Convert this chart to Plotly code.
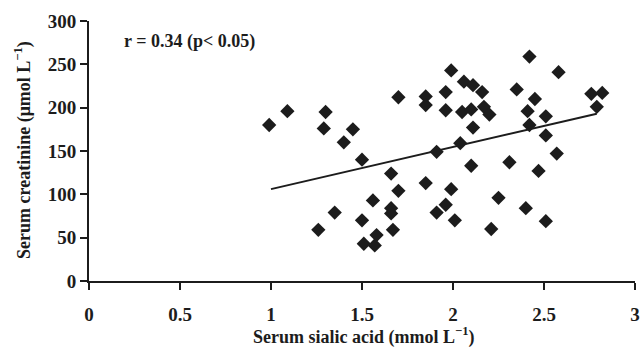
import plotly.graph_objects as go

# Serum sialic acid (mmol/L)
sialic = [0.99, 1.09, 1.30, 1.29, 1.45, 1.40, 1.50, 1.66, 1.70, 1.26,
          1.35, 1.50, 1.56, 1.51, 1.57, 1.58, 1.66, 1.66, 1.67, 1.70,
          1.85, 1.99, 1.96, 1.91, 2.01, 2.10, 2.25, 2.21, 2.31, 2.47,
          2.40, 2.51, 1.91, 2.04, 1.99, 2.06, 2.11, 2.16, 1.85, 1.85,
          1.96, 1.96, 2.05, 2.10, 2.17, 2.20, 2.11, 2.35, 2.42, 2.58,
          2.45, 2.41, 2.51, 2.42, 2.51, 2.57, 2.76, 2.82, 2.79]
# Serum creatinine (umol/L)
creatinine = [180, 196, 195, 176, 175, 160, 140, 124, 212, 59,
              79, 70, 93, 43, 41, 53, 84, 78, 59, 104,
              113, 106, 88, 79, 70, 133, 96, 60, 137, 127,
              84, 69, 149, 159, 243, 230, 226, 218, 213, 203,
              218, 197, 195, 198, 201, 192, 177, 221, 259, 241,
              210, 196, 190, 180, 168, 147, 216, 217, 201]

# Trend line end points
trend_x = [1.0, 2.79]
trend_y = [106, 193]

x_ticks = [0, 0.5, 1, 1.5, 2, 2.5, 3]
x_tick_labels = ["0", "0.5", "1", "1.5", "2", "2.5", "3"]
y_ticks = [0, 50, 100, 150, 200, 250, 300]

INK = "#1c1c1c"
FONT = "Liberation Serif"

fig = go.Figure()
fig.add_trace(go.Scatter(x=trend_x, y=trend_y, mode="lines",
                         line=dict(color=INK, width=2), showlegend=False,
                         hoverinfo="skip"))
fig.add_trace(go.Scatter(x=sialic, y=creatinine, mode="markers",
                         marker=dict(symbol="diamond", size=11, color=INK,
                                     line=dict(width=0)),
                         showlegend=False))

axis_common = dict(showgrid=False, zeroline=False, showline=True,
                   linecolor=INK, linewidth=2, ticks="outside", ticklen=7,
                   tickwidth=2, tickcolor=INK, automargin=False,
                   tickfont=dict(family=FONT, size=19, weight="bold", color=INK))

fig.update_layout(
    width=643, height=348,
    margin=dict(l=89, r=8, t=21, b=67),
    plot_bgcolor="white", paper_bgcolor="white",
    font=dict(family=FONT, color=INK, size=18, weight="bold"),
    xaxis=dict(range=[0, 3], tickvals=x_ticks, ticktext=x_tick_labels,
               ticklabelstandoff=8, **axis_common),
    yaxis=dict(range=[0, 300], tickvals=y_ticks, **axis_common),
    annotations=[
        dict(text="r = 0.34 (p< 0.05)", x=0.18, y=276,
             xref="x", yref="y", showarrow=False,
             xanchor="left", yanchor="middle",
             font=dict(family=FONT, size=18, weight="bold", color=INK)),
        dict(text="Serum sialic acid (mmol L<sup>−1</sup>)",
             x=363, y=348 - 336, xref="paper", yref="paper",
             showarrow=False, xanchor="center", yanchor="middle",
             font=dict(family=FONT, size=18, weight="bold", color=INK)),
        dict(text="Serum creatinine (μmol L<sup>−1</sup>)",
             x=23, y=348 - 150, xref="paper", yref="paper", textangle=-90,
             showarrow=False, xanchor="center", yanchor="middle",
             font=dict(family=FONT, size=18, weight="bold", color=INK)),
    ],
)

# convert pixel positions of the two title annotations to paper fractions
pw, ph = 643 - 89 - 8, 348 - 21 - 67
for ann in fig.layout.annotations[1:]:
    ann.x = (ann.x - 89) / pw
    ann.y = (ann.y - 67) / ph

fig.write_html("out.html",
               config={"displayModeBar": False},
               post_script="document.body.style.margin='0';"
                           "document.body.style.overflow='hidden';")
